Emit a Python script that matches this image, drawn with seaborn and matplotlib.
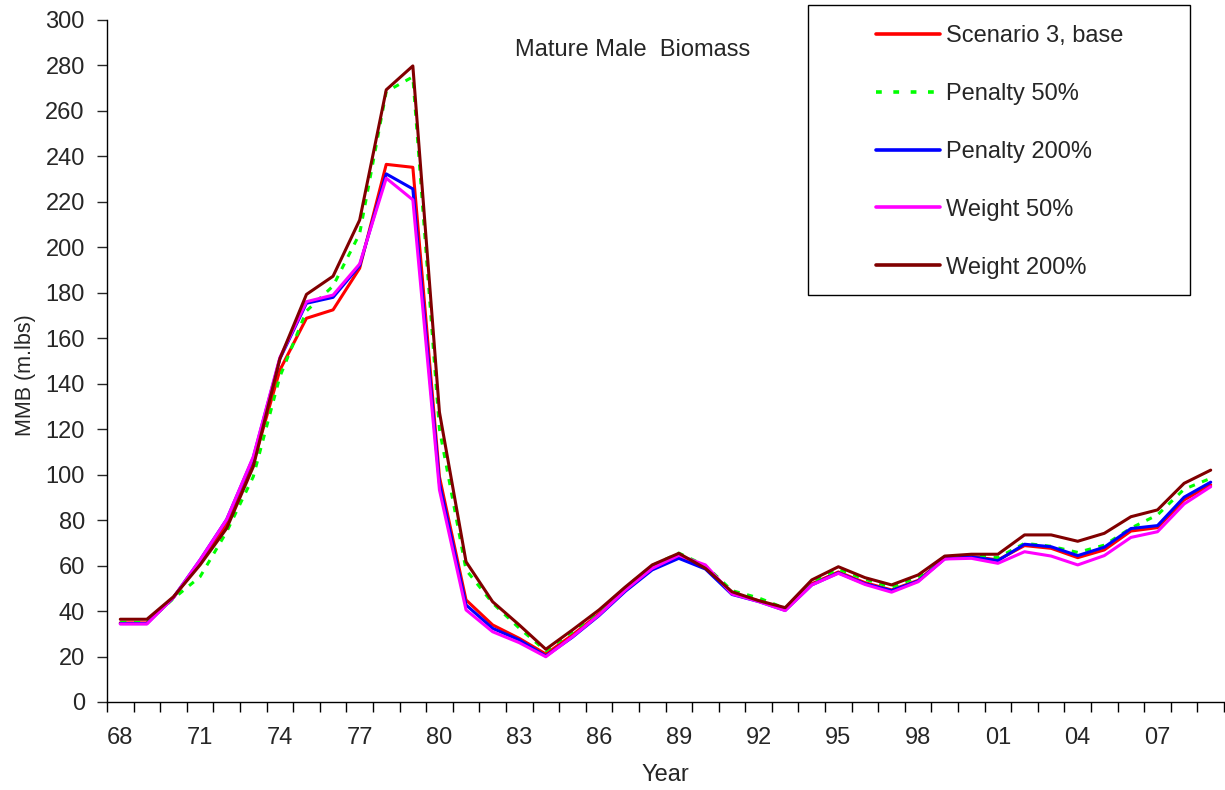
import numpy as np
import pandas as pd
import seaborn as sns
import matplotlib.pyplot as plt
from matplotlib.patches import Rectangle

# Mature male biomass (m.lbs), 1968-2009
years = list(range(1968, 2010))
year_labels = ["68", "71", "74", "77", "80", "83", "86", "89", "92", "95", "98", "01", "04", "07"]

base = [34.8, 34.8, 46.0, 61.5, 78.0, 105.0, 146.0, 168.8, 172.5, 190.8, 236.5, 235.2,
        99.1, 44.9, 33.9, 28.0, 21.1, 29.5, 38.8, 49.5, 58.8, 64.0, 59.0, 47.8,
        44.5, 40.8, 52.0, 57.2, 52.5, 49.3, 53.5, 63.3, 64.0, 62.5, 68.8, 67.6,
        63.5, 66.9, 75.2, 76.7, 88.9, 95.5]
pen50 = [35.0, 35.0, 45.5, 55.1, 74.9, 99.1, 143.1, 172.0, 183.0, 206.0, 268.5, 275.0,
         120.0, 58.1, 43.5, 32.5, 22.5, 31.0, 40.0, 50.5, 60.0, 65.5, 60.0, 49.0,
         45.8, 41.2, 53.0, 58.5, 54.0, 50.5, 55.0, 64.0, 64.5, 63.5, 69.8, 68.5,
         65.8, 69.0, 76.5, 82.3, 93.6, 98.4]
pen200 = [34.5, 34.5, 46.0, 62.5, 80.3, 107.5, 151.0, 175.4, 178.0, 192.0, 232.3, 225.7,
          96.2, 42.7, 32.4, 27.3, 20.2, 28.5, 38.0, 48.8, 58.1, 63.2, 58.5, 47.3,
          44.2, 40.3, 51.5, 56.8, 52.0, 49.0, 53.2, 63.0, 63.8, 62.2, 69.4, 68.3,
          64.4, 68.1, 76.3, 77.6, 90.1, 96.7]
wt50 = [34.3, 34.3, 46.0, 62.5, 80.3, 107.9, 151.5, 176.1, 179.0, 192.7, 230.4, 220.9,
        93.3, 40.5, 30.9, 26.1, 19.9, 28.7, 38.3, 49.3, 58.8, 64.5, 60.3, 47.5,
        44.2, 40.2, 51.5, 56.6, 51.7, 48.3, 52.9, 62.9, 63.2, 61.0, 66.1, 64.2,
        60.3, 64.4, 72.4, 74.9, 87.1, 94.7]
wt200 = [36.4, 36.4, 46.3, 60.3, 76.4, 103.5, 151.0, 179.3, 187.3, 212.0, 269.3, 279.8,
         127.5, 61.7, 44.1, 33.9, 23.2, 31.7, 40.5, 50.7, 60.3, 65.4, 58.8, 48.5,
         44.6, 41.5, 53.7, 59.5, 54.7, 51.5, 55.9, 64.2, 65.0, 65.0, 73.5, 73.5,
         70.7, 74.2, 81.5, 84.5, 96.2, 102.0]

names = ["Scenario 3, base", "Penalty 50%", "Penalty 200%", "Weight 50%", "Weight 200%"]
series = [base, pen50, pen200, wt50, wt200]
colors = ["#FF0000", "#00FF00", "#0000FF", "#FF00FF", "#800000"]

rows = []
for name, vals in zip(names, series):
    for i, v in enumerate(vals):
        rows.append({"idx": i, "MMB": v, "Scenario": name})
df = pd.DataFrame(rows)

sns.set_style("ticks")
plt.rcParams['font.family'] = ['Liberation Sans', 'DejaVu Sans']

fig = plt.figure(figsize=(12.25, 7.9), dpi=100)
ax = fig.add_axes([107 / 1225, 88 / 790, 1117 / 1225, 682 / 790])

sns.lineplot(data=df, x="idx", y="MMB", hue="Scenario", style="Scenario",
             hue_order=names, style_order=names,
             palette=dict(zip(names, colors)),
             dashes={n: (2, 2.5) if n == "Penalty 50%" else "" for n in names},
             linewidth=2.2, legend=False, ax=ax)

ax.set_xlim(-0.5, len(years) - 0.5)
ax.set_ylim(0, 300)
ax.set_yticks(np.arange(0, 301, 20))
ax.set_xticks(np.arange(0, len(years), 3))
ax.set_xticklabels(year_labels)
ax.set_xticks(np.arange(-0.5, len(years), 1), minor=True)
ax.tick_params(axis="x", which="major", length=0, pad=18, labelsize=17)
ax.tick_params(axis="x", which="minor", length=7, width=1, color="black")
ax.tick_params(axis="y", length=7, width=1, labelsize=17, pad=9)
for s in ["top", "right"]:
    ax.spines[s].set_visible(False)
for s in ["left", "bottom"]:
    ax.spines[s].set_color("black")
    ax.spines[s].set_linewidth(1)

ax.set_xlabel("Year", fontsize=17)
ax.set_ylabel("MMB (m.lbs)", fontsize=15.5)
ax.xaxis.set_label_coords(0.5, -0.091)
ax.yaxis.set_label_coords(-0.064, 0.48)
ax.text(0.471, 0.956, "Mature Male  Biomass", transform=ax.transAxes,
        ha="center", va="center", fontsize=17)

# legend box
fig.patches.append(Rectangle((808 / 1225, 1 - 295 / 790), 382 / 1225, 290 / 790,
                             transform=fig.transFigure, fill=False,
                             edgecolor="black", linewidth=1))
handles = [plt.Line2D([], [], color=c, linewidth=2.6,
                      dashes=(1.6, 3.2) if n == "Penalty 50%" else (None, None))
           for n, c in zip(names, colors)]
fig.legend(handles, names, loc="upper left",
           bbox_to_anchor=(876 / 1225, 1 - 25 / 790), frameon=False,
           fontsize=17, handlelength=2.7, handletextpad=0.25, labelspacing=1.52,
           borderpad=0, borderaxespad=0)

fig.savefig("out.png", dpi=100)
